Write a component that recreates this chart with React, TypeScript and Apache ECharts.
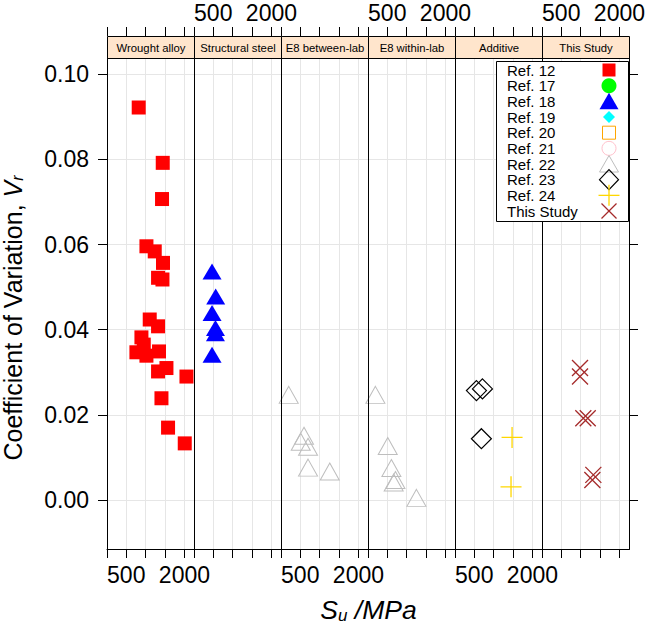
import React, { useEffect, useRef } from 'react';
import * as echarts from 'echarts';

// ---------- data ----------
const panelNames = ['Wrought alloy', 'Structural steel', 'E8 between-lab', 'E8 within-lab', 'Additive', 'This Study'];

// Ref. 12 (Wrought alloy)
const ref12Su = [673, 1193, 1173, 809, 986, 1201, 1067, 1185, 875, 1067, 718, 759, 637, 809, 1092, 1067, 1303, 2099, 1157, 1354, 2015];
const ref12Vr = [0.0922, 0.0792, 0.0707, 0.0596, 0.0584, 0.0557, 0.0522, 0.0518, 0.0424, 0.0408, 0.0382, 0.0365, 0.0347, 0.0339, 0.0349, 0.0302, 0.0310, 0.0290, 0.0239, 0.0170, 0.0133];
// Ref. 18 (Structural steel)
const ref18Su = [486, 530, 486, 527, 527, 486];
const ref18Vr = [0.0537, 0.0478, 0.0439, 0.0404, 0.0392, 0.0341];
// Ref. 22 (E8 between-lab)
const ref22BetweenSu = [380, 547, 506, 602, 602, 1010];
const ref22BetweenVr = [0.0247, 0.0151, 0.0137, 0.0125, 0.0076, 0.0067];
// Ref. 22 (E8 within-lab)
const ref22WithinSu = [377, 506, 552, 608, 583, 1002];
const ref22WithinVr = [0.0247, 0.0127, 0.0075, 0.0047, 0.0041, 0.0005];
// Ref. 23 (Additive)
const ref23Su = [527, 608, 593];
const ref23Vr = [0.0257, 0.0261, 0.0144];
// Ref. 24 (Additive)
const ref24Su = [1231, 1201];
const ref24Vr = [0.0147, 0.0031];
// This Study
const thisStudySu = [782, 782, 846, 940, 1074, 1049];
const thisStudyVr = [0.031, 0.029, 0.0192, 0.0192, 0.0059, 0.0047];

const xTickLogs = [2.5, 2.7, 2.9, 3.1, 3.3];
const xTickLabelValues = [500, 2000];
const xTickLabels = ['500', '2000'];
const yTicks = [0, 0.02, 0.04, 0.06, 0.08, 0.1];
const legendLabels = ['Ref. 12', 'Ref. 17', 'Ref. 18', 'Ref. 19', 'Ref. 20', 'Ref. 21', 'Ref. 22', 'Ref. 23', 'Ref. 24', 'This Study'];

// ---------- layout / style ----------
const FONT = '"Liberation Sans", Arial, Helvetica, sans-serif';
const X_MIN = 2.5;
const X_MAX = 3.4;
const Y_MIN = -0.01151;
const Y_MAX = 0.10383;
const PLOT_LEFT = 107;
const PANEL_W = 87;
const PLOT_TOP = 58;
const PLOT_H = 491;
const STRIP_H = 22;
const GRID_COLOR = '#e6e6e6';

const toPoints = (su: number[], vr: number[]) => su.map((s, i) => [Math.log10(s), vr[i]]);

const seriesDefs: any[] = [
  { name: 'Ref. 12', panel: 0, su: ref12Su, vr: ref12Vr, symbol: 'rect', size: 14, itemStyle: { color: '#FF0000' } },
  { name: 'Ref. 18', panel: 1, su: ref18Su, vr: ref18Vr, symbol: 'triangle', size: [19, 16], itemStyle: { color: '#0000FF' } },
  { name: 'Ref. 22', panel: 2, su: ref22BetweenSu, vr: ref22BetweenVr, symbol: 'triangle', size: [19, 17], itemStyle: { color: 'rgba(0,0,0,0)', borderColor: '#BEBEBE', borderWidth: 1 } },
  { name: 'Ref. 22', panel: 3, su: ref22WithinSu, vr: ref22WithinVr, symbol: 'triangle', size: [19, 17], itemStyle: { color: 'rgba(0,0,0,0)', borderColor: '#BEBEBE', borderWidth: 1 } },
  { name: 'Ref. 23', panel: 4, su: ref23Su, vr: ref23Vr, symbol: 'diamond', size: [20, 20], itemStyle: { color: 'rgba(0,0,0,0)', borderColor: '#000000', borderWidth: 1.2 } },
  { name: 'Ref. 24', panel: 4, su: ref24Su, vr: ref24Vr, symbol: 'path://M0,10L20,10M10,0L10,20', size: [21, 21], itemStyle: { color: 'none', borderColor: '#FFD700', borderWidth: 1.3 } },
  { name: 'This Study', panel: 5, su: thisStudySu, vr: thisStudyVr, symbol: 'path://M0,0L20,20M20,0L0,20', size: [16, 16], itemStyle: { color: 'none', borderColor: '#A52A2A', borderWidth: 1.3 } },
];

const xLabelLogs = xTickLabelValues.map((v) => Math.log10(v));
const xLabelFormatter = (v: number) => {
  const idx = xLabelLogs.findIndex((l) => Math.abs(l - v) < 0.005);
  return idx >= 0 ? xTickLabels[idx] : '';
};

function buildOption() {
  const idx = [0, 1, 2, 3, 4, 5];
  const grid = idx.map((i) => ({
    left: PLOT_LEFT + i * PANEL_W,
    top: PLOT_TOP,
    width: PANEL_W,
    height: PLOT_H,
    containLabel: false,
    outerBoundsMode: 'none',
    show: false,
  }));

  const xAxis: any[] = [];
  idx.forEach((i) => {
    const common = {
      type: 'value',
      gridIndex: i,
      min: X_MIN,
      max: X_MAX,
      interval: 0.2,
      axisTick: { show: true, inside: false, length: 9, lineStyle: { color: '#000', width: 1 }, customValues: xTickLogs },
    };
    xAxis.push({
      ...common,
      position: 'bottom',
      axisLine: { show: true, onZero: false, lineStyle: { color: '#000', width: 1 } },
      axisLabel: { show: i % 2 === 0, customValues: xLabelLogs, formatter: xLabelFormatter, fontSize: 23, color: '#000', fontFamily: FONT, margin: 14 },
      splitLine: { show: true, lineStyle: { color: GRID_COLOR, width: 1 } },
    });
    xAxis.push({
      ...common,
      position: 'top',
      offset: STRIP_H,
      axisLine: { show: false, onZero: false },
      axisLabel: { show: i % 2 === 1, customValues: xLabelLogs, formatter: xLabelFormatter, fontSize: 23, color: '#000', fontFamily: FONT, margin: 12 },
      splitLine: { show: false },
    });
  });

  const yAxis: any[] = idx.map((i) => ({
    type: 'value',
    gridIndex: i,
    position: 'left',
    min: Y_MIN,
    max: Y_MAX,
    axisLine: { show: true, onZero: false, lineStyle: { color: '#000', width: 1 } },
    axisTick: { show: i === 0, inside: false, length: 9, lineStyle: { color: '#000', width: 1 }, customValues: yTicks },
    axisLabel: { show: i === 0, customValues: yTicks, formatter: (v: number) => v.toFixed(2), fontSize: 23, color: '#000', fontFamily: FONT, margin: 18 },
    splitLine: { show: true, lineStyle: { color: GRID_COLOR, width: 1 } },
  }));
  yAxis.push({
    type: 'value',
    gridIndex: 5,
    position: 'right',
    min: Y_MIN,
    max: Y_MAX,
    axisLine: { show: true, onZero: false, lineStyle: { color: '#000', width: 1 } },
    axisTick: { show: true, inside: false, length: 9, lineStyle: { color: '#000', width: 1 }, customValues: yTicks },
    axisLabel: { show: false },
    splitLine: { show: false },
  });

  const series = seriesDefs.map((d) => ({
    type: 'scatter',
    name: d.name,
    xAxisIndex: d.panel * 2,
    yAxisIndex: d.panel,
    data: toPoints(d.su, d.vr),
    symbol: d.symbol,
    symbolSize: d.size,
    itemStyle: { opacity: 1, ...d.itemStyle },
    emphasis: { disabled: true },
    silent: true,
  }));

  const graphic: any[] = [];
  // strips
  idx.forEach((i) => {
    graphic.push({
      type: 'rect',
      shape: { x: PLOT_LEFT + i * PANEL_W + 0.5, y: PLOT_TOP - STRIP_H + 0.5, width: PANEL_W, height: STRIP_H },
      style: { fill: '#FFE5CC', stroke: '#000', lineWidth: 1 },
      z: 10,
      silent: true,
    });
    graphic.push({
      type: 'text',
      x: PLOT_LEFT + i * PANEL_W + PANEL_W / 2 + 0.5,
      y: PLOT_TOP - STRIP_H / 2 + 0.5,
      style: { text: panelNames[i], fontSize: 11.3, fontFamily: FONT, fill: '#000', align: 'center', verticalAlign: 'middle' },
      z: 11,
      silent: true,
    });
  });
  // frame & separators
  graphic.push({
    type: 'rect',
    shape: { x: PLOT_LEFT + 0.5, y: PLOT_TOP + 0.5, width: PANEL_W * 6, height: PLOT_H },
    style: { fill: 'none', stroke: '#000', lineWidth: 1 },
    z: 10,
    silent: true,
  });
  for (let i = 1; i < 6; i++) {
    const x = PLOT_LEFT + i * PANEL_W + 0.5;
    graphic.push({
      type: 'line',
      shape: { x1: x, y1: PLOT_TOP + 0.5, x2: x, y2: PLOT_TOP + PLOT_H + 0.5 },
      style: { stroke: '#000', lineWidth: 1 },
      z: 10,
      silent: true,
    });
  }
  // legend box
  const LX = 496.5, LY = 61.5, LW = 132, LH = 160;
  graphic.push({ type: 'rect', shape: { x: LX, y: LY, width: LW, height: LH }, style: { fill: '#fff', stroke: '#000', lineWidth: 1 }, z: 20, silent: true });
  const sx = 609;
  legendLabels.forEach((lab, k) => {
    const yc = 70 + 15.67 * k;
    graphic.push({
      type: 'text', x: 507, y: yc,
      style: { text: lab, fontSize: 15, fontFamily: FONT, fill: '#000', align: 'left', verticalAlign: 'middle' },
      z: 21, silent: true,
    });
    const els: any[] = [];
    switch (k) {
      case 0:
        els.push({ type: 'rect', shape: { x: sx - 6.5, y: yc - 6.5, width: 13, height: 13 }, style: { fill: '#FF0000' } });
        break;
      case 1:
        els.push({ type: 'circle', shape: { cx: sx, cy: yc, r: 7.5 }, style: { fill: '#00FF00' } });
        break;
      case 2:
        els.push({ type: 'polygon', shape: { points: [[sx, yc - 8.5], [sx + 9.5, yc + 8], [sx - 9.5, yc + 8]] }, style: { fill: '#0000FF' } });
        break;
      case 3:
        els.push({ type: 'polygon', shape: { points: [[sx, yc - 6], [sx + 6, yc], [sx, yc + 6], [sx - 6, yc]] }, style: { fill: '#00FFFF' } });
        break;
      case 4:
        els.push({ type: 'rect', shape: { x: sx - 6.5, y: yc - 6.5, width: 13, height: 13 }, style: { fill: 'none', stroke: '#FFA500', lineWidth: 1 } });
        break;
      case 5:
        els.push({ type: 'circle', shape: { cx: sx, cy: yc, r: 7 }, style: { fill: 'none', stroke: '#FFC0CB', lineWidth: 1 } });
        break;
      case 6:
        els.push({ type: 'polygon', shape: { points: [[sx, yc - 8.5], [sx + 9.5, yc + 8], [sx - 9.5, yc + 8]] }, style: { fill: 'none', stroke: '#BEBEBE', lineWidth: 1 } });
        break;
      case 7:
        els.push({ type: 'polygon', shape: { points: [[sx, yc - 10], [sx + 9.5, yc], [sx, yc + 10], [sx - 9.5, yc]] }, style: { fill: 'none', stroke: '#000', lineWidth: 1.2 } });
        break;
      case 8:
        els.push({ type: 'line', shape: { x1: sx - 10.5, y1: yc, x2: sx + 10.5, y2: yc }, style: { stroke: '#FFD700', lineWidth: 1.3 } });
        els.push({ type: 'line', shape: { x1: sx, y1: yc - 10.5, x2: sx, y2: yc + 10.5 }, style: { stroke: '#FFD700', lineWidth: 1.3 } });
        break;
      default:
        els.push({ type: 'line', shape: { x1: sx - 7.5, y1: yc - 7.5, x2: sx + 7.5, y2: yc + 7.5 }, style: { stroke: '#A52A2A', lineWidth: 1.3 } });
        els.push({ type: 'line', shape: { x1: sx + 7.5, y1: yc - 7.5, x2: sx - 7.5, y2: yc + 7.5 }, style: { stroke: '#A52A2A', lineWidth: 1.3 } });
    }
    els.forEach((el) => graphic.push({ ...el, z: 21, silent: true }));
  });

  // axis titles
  graphic.push({
    type: 'text',
    x: 13,
    y: 318,
    rotation: Math.PI / 2,
    style: {
      text: 'Coefficient of Variation, {v|V}{r|r}',
      fontSize: 25,
      fontFamily: FONT,
      fill: '#000',
      align: 'center',
      verticalAlign: 'middle',
      rich: {
        v: { fontSize: 25, fontStyle: 'italic', fontFamily: FONT, fill: '#000' },
        r: { fontSize: 16, fontStyle: 'italic', fontFamily: FONT, fill: '#000', lineHeight: 10, verticalAlign: 'bottom' },
      },
    },
    z: 5,
    silent: true,
  });
  graphic.push({
    type: 'text',
    x: PLOT_LEFT + PANEL_W * 3 + 0.5,
    y: 610,
    style: {
      text: '{s|S}{u|u}{m| /MPa}',
      fontSize: 26.5,
      fontFamily: FONT,
      fill: '#000',
      align: 'center',
      verticalAlign: 'middle',
      rich: {
        s: { fontSize: 26.5, fontStyle: 'italic', fontFamily: FONT, fill: '#000' },
        u: { fontSize: 17, fontStyle: 'italic', fontFamily: FONT, fill: '#000', lineHeight: 11, verticalAlign: 'bottom' },
        m: { fontSize: 26.5, fontStyle: 'italic', fontFamily: FONT, fill: '#000' },
      },
    },
    z: 5,
    silent: true,
  });

  return {
    animation: false,
    backgroundColor: '#ffffff',
    textStyle: { fontFamily: FONT },
    grid,
    xAxis,
    yAxis,
    series,
    graphic,
  };
}

export default function App() {
  const ref = useRef<HTMLDivElement>(null);
  useEffect(() => {
    if (!ref.current) return;
    const chart = echarts.init(ref.current, undefined, { renderer: 'svg' });
    chart.setOption(buildOption() as any);
    return () => chart.dispose();
  }, []);
  return <div ref={ref} style={{ position: 'fixed', left: 0, top: 0, width: 645, height: 627 }} />;
}
